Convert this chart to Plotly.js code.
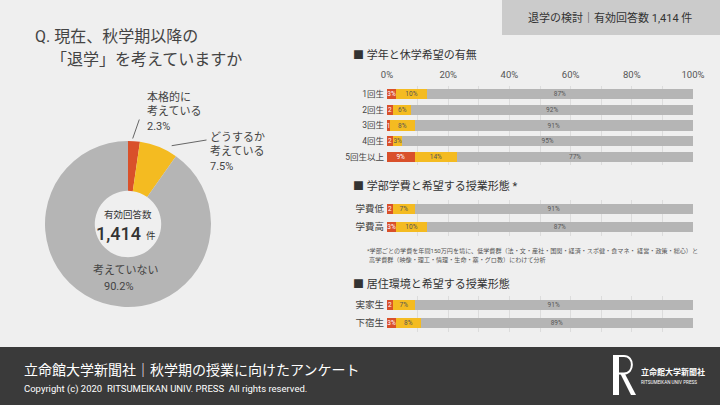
<!DOCTYPE html>
<html><head><meta charset="utf-8">
<script src="https://cdn.plot.ly/plotly-3.0.1.min.js"></script>
<style>html,body{margin:0;padding:0;background:#efefef;}#chart{width:720px;height:405px;}</style>
</head><body><div id="chart"></div>
<script>
// ---- data ----
const pieLabels = ['本格的に考えている', 'どうするか考えている', '考えていない'];
const pieValues = [2.3, 7.5, 90.2];
const totalResponses = '1,414';

const gradeCats = ['1回生', '2回生', '3回生', '4回生', '5回生以上'];
const gradeSerious = [3, 2, 1, 2, 9];
const gradeConsider = [10, 6, 8, 3, 14];
const gradeNot = [87, 92, 91, 95, 77];

const feeCats = ['学費低', '学費高'];
const feeSerious = [2, 3];
const feeConsider = [7, 10];
const feeNot = [91, 87];

const homeCats = ['実家生', '下宿生'];
const homeSerious = [2, 3];
const homeConsider = [7, 8];
const homeNot = [91, 89];

const pctTicks = [0, 10, 20, 30, 40, 50, 60, 70, 80, 90, 100];
const pctTickText = ['0%', '', '20%', '', '40%', '', '60%', '', '80%', '', '100%'];

// ---- styling ----
const W = 720, H = 405;
const px = x => x / W;
const py = y => 1 - y / H;
const FONT = "Roboto, 'Noto Sans CJK JP', sans-serif";
const RED = '#d9502a', YEL = '#f4bb21', GRY = '#b5b5b5', BG = '#efefef';

function lbl(v) { return v >= 3 ? v + '%' : String(v); }

function bars(cats, vals, color, tcolor, xa, ya, w) {
  return {
    type: 'bar', orientation: 'h', y: cats, x: vals, xaxis: xa, yaxis: ya,
    marker: { color: color, line: { width: 0 } }, width: w,
    text: vals.map(lbl), textposition: 'inside', insidetextanchor: 'middle', textangle: 0,
    textfont: { family: FONT, size: 6.5, color: tcolor }, cliponaxis: false,
    hoverinfo: 'skip', showlegend: false
  };
}

const data = [
  {
    type: 'pie', values: pieValues, labels: pieLabels,
    marker: { colors: [RED, YEL, GRY], line: { width: 0 } },
    hole: 0.4, sort: false, direction: 'clockwise', rotation: 0,
    textinfo: 'none', hoverinfo: 'skip', showlegend: false,
    domain: { x: [px(45), px(211)], y: [py(307), py(141)] }
  },
  bars(gradeCats, gradeSerious, RED, '#ffffff', 'x', 'y', 0.64),
  bars(gradeCats, gradeConsider, YEL, '#555555', 'x', 'y', 0.64),
  bars(gradeCats, gradeNot, GRY, '#555555', 'x', 'y', 0.64),
  bars(feeCats, feeSerious, RED, '#ffffff', 'x2', 'y2', 0.56),
  bars(feeCats, feeConsider, YEL, '#555555', 'x2', 'y2', 0.56),
  bars(feeCats, feeNot, GRY, '#555555', 'x2', 'y2', 0.56),
  bars(homeCats, homeSerious, RED, '#ffffff', 'x3', 'y3', 0.56),
  bars(homeCats, homeConsider, YEL, '#555555', 'x3', 'y3', 0.56),
  bars(homeCats, homeNot, GRY, '#555555', 'x3', 'y3', 0.56)
];

function xax(anchor, showLabels) {
  return {
    domain: [px(387), px(693)], range: [0, 100], anchor: anchor, side: 'top',
    tickvals: pctTicks, ticktext: pctTickText, showticklabels: showLabels,
    showgrid: true, gridcolor: '#dcdcdc', gridwidth: 1, zeroline: false, showline: false,
    ticks: '', ticklabelstandoff: 5, tickfont: { family: FONT, size: 9.5, color: '#555' }, fixedrange: true
  };
}
function yax(anchor, cats, top, bottom, fs) {
  return {
    domain: [py(bottom), py(top)], type: 'category', categoryarray: cats,
    autorange: 'reversed', anchor: anchor, ticks: '', showgrid: false, zeroline: false,
    showline: false, tickfont: { family: FONT, size: fs, color: '#444' }, ticklabelstandoff: 2,
    fixedrange: true
  };
}

function ann(text, x, y, o) {
  o = o || {};
  return Object.assign({
    text: text, x: px(x), y: py(y), xref: 'paper', yref: 'paper', showarrow: false,
    xanchor: 'left', yanchor: 'middle', align: 'left',
    font: { family: FONT, size: 11, color: '#444' }
  }, o);
}

const annotations = [
  ann('Q. 現在、秋学期以降の', 33, 37, { font: { family: FONT, size: 16, color: '#444' } }),
  ann('「退学」を考えていますか', 49, 59, { font: { family: FONT, size: 16, color: '#444' } }),
  ann('本格的に<br>考えている<br>' + pieValues[0] + '%', 145, 111),
  ann('どうするか<br>考えている<br>' + pieValues[1] + '%', 208, 152),
  ann('考えていない', 126, 270, { xanchor: 'center' }),
  ann(pieValues[2] + '%', 102, 286),
  ann('有効回答数', 128, 214.5, { xanchor: 'center', font: { family: FONT, size: 9.5, color: '#333' } }),
  ann(totalResponses, 143, 233, { xanchor: 'right', font: { family: FONT, size: 18, color: '#333', weight: 500 } }),
  ann('件', 144, 235, { font: { family: FONT, size: 9.5, color: '#333' } }),
  ann('退学の検討｜有効回答数 1,414 件', 610, 18, { xanchor: 'center', font: { family: FONT, size: 11, color: '#333' } }),
  ann('■ 学年と休学希望の有無', 351, 55, { font: { family: FONT, size: 11, color: '#333' } }),
  ann('■ 学部学費と希望する授業形態 *', 351, 186, { font: { family: FONT, size: 11, color: '#333' } }),
  ann('■ 居住環境と希望する授業形態', 351, 284, { font: { family: FONT, size: 11, color: '#333' } }),
  ann('*学部ごとの学費を年間150万円を境に、低学費群（法・文・産社・国関・経済・スポ健・食マネ・ 経営・政策・総心）と', 365, 251, { font: { family: FONT, size: 6.1, color: '#555' } }),
  ann('高学費群（映像・理工・情理・生命・薬・グロ教）にわけて分析', 367, 260, { font: { family: FONT, size: 6.1, color: '#555' } }),
  ann('立命館大学新聞社｜秋学期の授業に向けたアンケート', 22, 370, { font: { family: FONT, size: 14, color: '#ffffff' } }),
  ann('Copyright (c) 2020  RITSUMEIKAN UNIV. PRESS  All rights reserved.', 22, 389, { font: { family: FONT, size: 9.5, color: '#ffffff' } }),
  ann('立命館大学新聞社', 639, 372, { font: { family: FONT, size: 8, color: '#ffffff', weight: 700 } }),
  ann('RITSUMEIKAN UNIV PRESS', 639, 382, { font: { family: FONT, size: 4.6, color: '#ffffff' } })
];

function P(pts) { return pts.map((p, i) => (i ? 'L' : 'M') + px(p[0]) + ',' + py(p[1])).join(' ') + ' Z'; }

const shapes = [
  { type: 'rect', xref: 'paper', yref: 'paper', x0: px(502), x1: 1, y0: py(35), y1: 1, fillcolor: '#cbcbcb', line: { width: 0 }, layer: 'below' },
  { type: 'rect', xref: 'paper', yref: 'paper', x0: 0, x1: 1, y0: 0, y1: py(347), fillcolor: '#3a3a3a', line: { width: 0 }, layer: 'below' },
  { type: 'line', xref: 'paper', yref: 'paper', x0: px(132.7), y0: py(138.5), x1: px(139.3), y1: py(119.5), line: { color: '#666', width: 1 } },
  { type: 'line', xref: 'paper', yref: 'paper', x0: px(171.7), y0: py(145.7), x1: px(206.5), y1: py(140), line: { color: '#666', width: 1 } },
  // logo R
  { type: 'path', xref: 'paper', yref: 'paper', path: P([[613, 355], [619, 355], [619, 395], [613, 395]]), fillcolor: '#ffffff', line: { width: 0 } },
  { type: 'path', xref: 'paper', yref: 'paper',
    path: 'M' + px(619) + ',' + py(356) + ' L' + px(624) + ',' + py(356) + ' C' + px(634.5) + ',' + py(356) + ' ' + px(634.5) + ',' + py(373.5) + ' ' + px(624) + ',' + py(373.5) + ' L' + px(619) + ',' + py(373.5),
    line: { color: '#ffffff', width: 2 } },
  { type: 'path', xref: 'paper', yref: 'paper', path: P([[620, 373], [624.5, 373], [636, 395], [631, 395]]), fillcolor: '#ffffff', line: { width: 0 } }
];

const layout = {
  width: W, height: H, margin: { l: 0, r: 0, t: 0, b: 0 },
  paper_bgcolor: BG, plot_bgcolor: BG, barmode: 'stack', bargap: 0.4,
  uniformtext: { mode: 'show', minsize: 6.5 },
  font: { family: FONT },
  xaxis: xax('y', true), yaxis: yax('x', gradeCats, 86, 165, 8.5),
  xaxis2: xax('y2', false), yaxis2: yax('x2', feeCats, 200, 236, 9.5),
  xaxis3: xax('y3', false), yaxis3: yax('x3', homeCats, 296, 332, 9.5),
  annotations: annotations, shapes: shapes
};

Plotly.newPlot('chart', data, layout, { staticPlot: true, displayModeBar: false });
</script></body></html>
